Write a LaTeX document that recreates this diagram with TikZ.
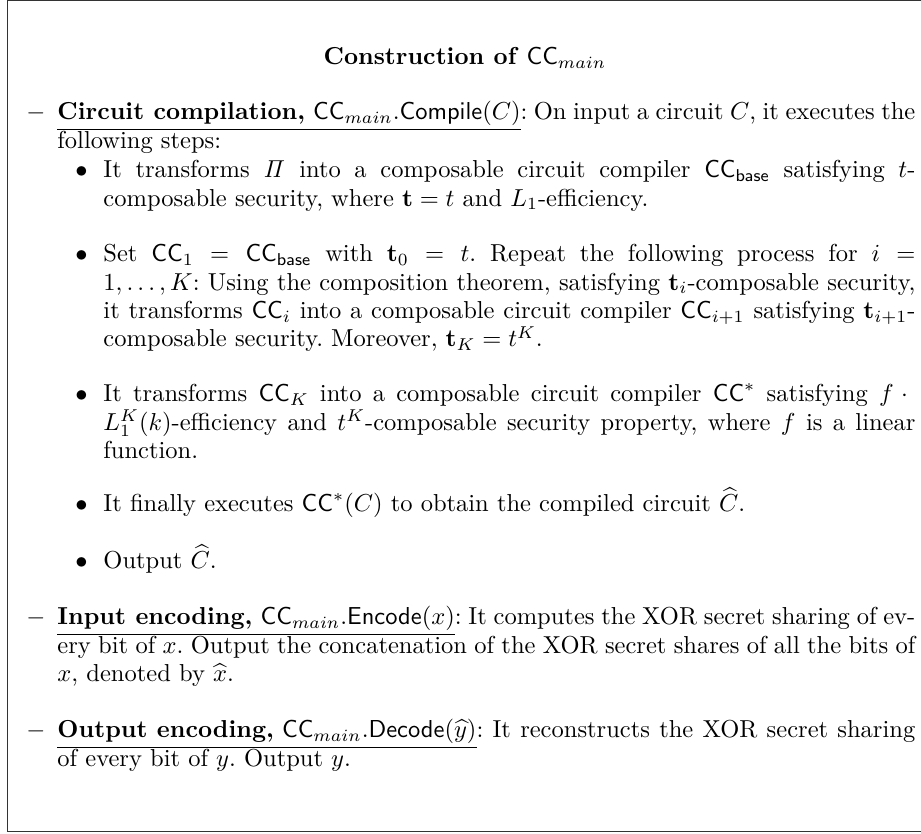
\documentclass[tikz,border=0pt]{standalone}
\usepackage{tikz}

\begin{document}
\begin{tikzpicture}[x=0.408pt,y=-0.408pt,
  every node/.style={font=\fontsize{10}{11.55}\selectfont\frenchspacing},
  txt/.style={anchor=base west,inner sep=0pt,align=justify},
  lbl/.style={anchor=base east,inner sep=0pt}]
\useasboundingbox (0,0) rectangle (921,834);
\draw[line width=0.7pt,black!80] (921,0.5) -- (7.5,0.5) -- (7.5,831.5) -- (921,831.5);
\node[anchor=base,inner sep=0pt] (head) at (465,65) {\textbf{Construction of} $\mathsf{CC}_{main}$};
\node[lbl] (d1) at (46,120) {$-$};
\node[txt,text width=350pt] (i1) at (57,120) {\underline{\textbf{Circuit compilation,} $\mathsf{CC}_{main}.\mathsf{Compile}(C)$}: On input a circuit $C$, it executes the\linebreak following steps:};
\node[lbl] (m1) at (88,178) {$\bullet$};
\node[txt,text width=331.3pt] (b1) at (103,178) {It transforms $\mathit{\Pi}$ into a composable circuit compiler $\mathsf{CC}_{\mathsf{base}}$ satisfying $t$-\linebreak composable security, where $\mathbf{t}=t$ and $L_1$-efficiency.};
\node[lbl] (m2) at (88,262) {$\bullet$};
\node[txt,text width=331.3pt] (b2) at (103,262) {Set $\mathsf{CC}_1 = \mathsf{CC}_{\mathsf{base}}$ with $\mathbf{t}_0 = t$. Repeat the following process for $i =$\linebreak $1,\ldots,K$: Using the composition theorem, satisfying $\mathbf{t}_i$-composable security,\linebreak it transforms $\mathsf{CC}_i$ into a composable circuit compiler $\mathsf{CC}_{i+1}$ satisfying $\mathbf{t}_{i+1}$-\linebreak composable security. Moreover, $\mathbf{t}_K = t^K$.};
\node[lbl] (m3) at (88,402) {$\bullet$};
\node[txt,text width=331.3pt] (b3) at (103,402) {It transforms $\mathsf{CC}_K$ into a composable circuit compiler $\mathsf{CC}^*$ satisfying $f\cdot{}$\linebreak $L_1^K(k)$-efficiency and $t^K$-composable security property, where $f$ is a linear\linebreak function.};
\node[lbl] (m4) at (88,512) {$\bullet$};
\node[txt,text width=331.3pt] (b4) at (103,512) {It finally executes $\mathsf{CC}^*(C)$ to obtain the compiled circuit $\widehat{C}$.};
\node[lbl] (m5) at (88,569) {$\bullet$};
\node[txt,text width=331.3pt] (b5) at (103,569) {Output $\widehat{C}$.};
\node[lbl] (d2) at (46,625) {$-$};
\node[txt,text width=350pt] (i2) at (57,625) {\underline{\textbf{Input encoding,} $\mathsf{CC}_{main}.\mathsf{Encode}(x)$}: It computes the XOR secret sharing of ev-\linebreak ery bit of $x$. Output the concatenation of the XOR secret shares of all the bits of\linebreak $x$, denoted by $\widehat{x}$.};
\node[lbl] (d3) at (46,738) {$-$};
\node[txt,text width=350pt] (i3) at (57,738) {\underline{\textbf{Output encoding,} $\mathsf{CC}_{main}.\mathsf{Decode}(\widehat{y})$}: It reconstructs the XOR secret sharing\linebreak of every bit of $y$. Output $y$.};
\end{tikzpicture}
\end{document}
